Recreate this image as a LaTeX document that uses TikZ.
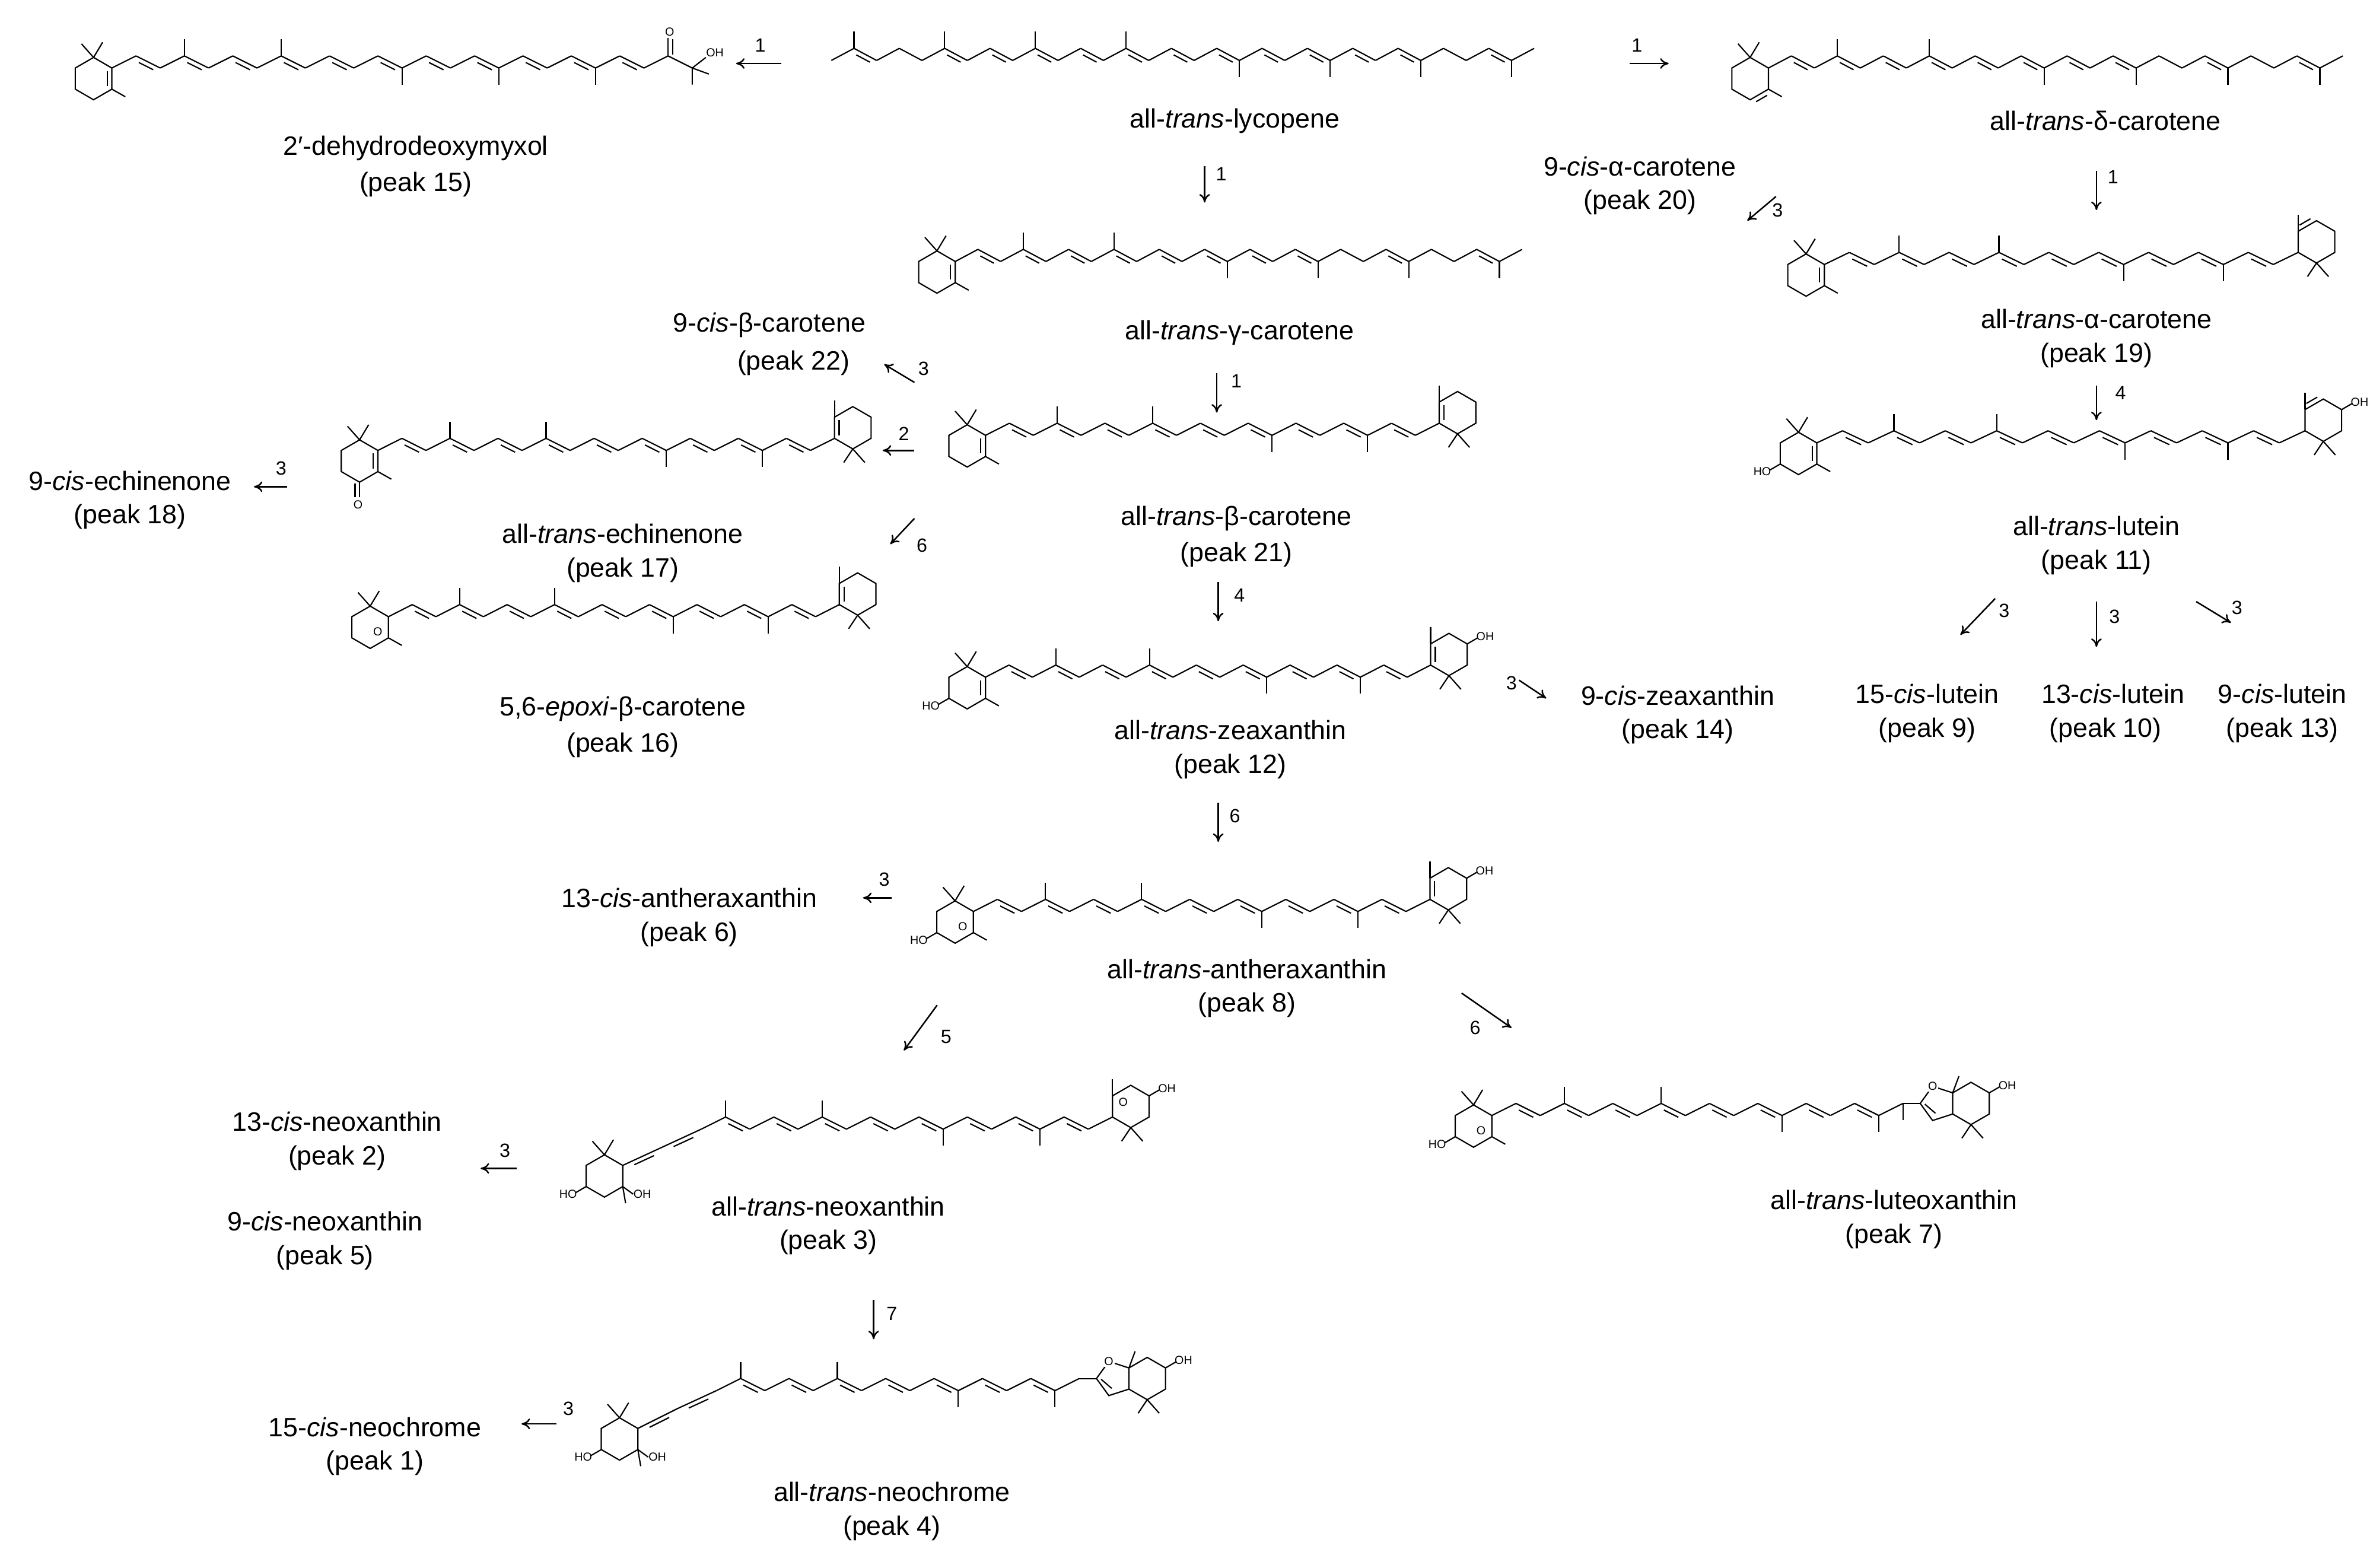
\documentclass[tikz,border=0pt]{standalone}
\usepackage{fontspec}
\setmainfont{Liberation Sans}
\usetikzlibrary{calc,arrows.meta}
\tikzset{
 lab/.style={font=\fontsize{12.5}{14}\selectfont,inner sep=0pt},
 num/.style={font=\fontsize{9}{10}\selectfont,inner sep=0pt},
 oh/.style={font=\fontsize{5.5}{6}\selectfont,inner sep=0pt},
 rxn/.style={-{To[length=4pt,width=5pt]},line width=0.7pt},
}
\newcommand\chain[6]{%
 \foreach \i in {0,...,#3}{\pgfmathsetmacro\yy{#2-8*mod(\i,2)}\coordinate (c\i) at ({#1+\i*#4},\yy);}
 \foreach \i in {1,...,#3}{\pgfmathtruncatemacro\j{\i-1}\draw (c\j)--(c\i);}
 \foreach \m in {#5}{\pgfmathtruncatemacro\hh{mod(\m,2)}\ifnum\hh=1 \draw (c\m)--++(0,-11);\else\draw (c\m)--++(0,11);\fi}
 \foreach \k in {#6}{\pgfmathtruncatemacro\j{\k-1}\draw ($(c\j)!.2!(c\k)!2.2pt!-90:(c\k)$)--($(c\k)!.2!(c\j)!2.2pt!90:(c\j)$);}
}
\def\hexpath{(0,-14)--(12.1,-7)--(12.1,7)--(0,14)--(-12.1,7)--(-12.1,-7)--cycle}
\newcommand\Lring[2]{\begin{scope}[shift={(#1)},shift={(-12.1,7)}]\draw \hexpath; #2\end{scope}}
\newcommand\Rring[2]{\begin{scope}[shift={(#1)},shift={(12.1,-7)}]\draw \hexpath; #2\end{scope}}
\newcommand\Lgem{\draw (0,-14)--(-8,-23) (0,-14)--(6,-24);}
\newcommand\Lme{\draw (12.1,7)--(21,12);}
\newcommand\Ldb{\draw (9,-5)--(9,5);}
\newcommand\Ledb{\draw ($(12.1,7)!.2!(0,14)!2.2pt!90:(0,14)$)--($(0,14)!.2!(12.1,7)!2.2pt!-90:(12.1,7)$);}
\newcommand\Lho{\draw (-12.1,7)--(-19,11); \node[oh] at (-24,12) {HO};}
\newcommand\Rgem{\draw (0,14)--(-6,23) (0,14)--(8,23);}
\newcommand\Rme{\draw (-12.1,-7)--(-12.1,-18);}
\newcommand\Rdb{\draw (-9,-5)--(-9,5);}
\newcommand\Redb{\draw ($(-12.1,-7)!.2!(0,-14)!2.2pt!90:(0,-14)$)--($(0,-14)!.2!(-12.1,-7)!2.2pt!-90:(-12.1,-7)$);}
\newcommand\Roh{\draw (12.1,-7)--(19,-11); \node[oh] at (24,-12) {OH};}
\newcommand\Lepo{\node[oh] at (5,3) {O};}
\newcommand\Repo{\node[oh] at (-5,-3) {O};}
\newcommand\rx[5]{\coordinate (#1s) at (#2); \coordinate (#1e) at (#3); \draw[rxn] (#1s)--(#1e); \node[num] (#1l) at (#5) {#4};}
\newcommand\Fur[1]{\begin{scope}[shift={(#1)}]\draw \hexpath;
 \draw (-12.1,-7)--(-25.4,-11.3)--(-33.6,0)--(-25.4,11.3)--(-12.1,7);
 \draw (-23.5,6.5)--(-30.5,0.5);
 \node[oh,fill=white,inner sep=0.5pt] at (-25.4,-11.3) {O};
 \draw (-12.1,-7)--(-8,-18); \draw (0,14)--(-6,23) (0,14)--(8,23);
 \draw (12.1,-7)--(19,-11); \node[oh] at (24,-12) {OH};\end{scope}}
\begin{document}
\begin{tikzpicture}[x=0.025cm,y=-0.025cm,line width=0.6pt]
\useasboundingbox (0,0) rectangle (1568,1037);
% M1 2'-dehydrodeoxymyxol
\chain{74}{45}{24}{16}{3,7,12,16,20}{2,4,6,8,10,12,14,16,18,20,22}
\Lring{c0}{\Lgem\Lme\Ldb}
\draw (c23)--++(0,-12); \draw ($(c23)+(3,-1)$)--++(0,-10); \node[oh] at ($(c23)+(1,-16)$) {O};
\draw (c24)--++(0,11) (c24)--++(11,4) (c24)--++(9,-7); \node[oh] at ($(c24)+(15,-10)$) {OH};
\node[lab] (t1) at (275,98) {2′-dehydrodeoxymyxol};
\node[lab] (t1b) at (275,122) {(peak 15)};
% M2 lycopene
\chain{550}{40}{31}{15}{1,5,9,13,18,22,26,30}{2,6,8,10,12,14,16,18,20,22,24,26,30}
\node[lab] (t2) at (817,80) {all-\textit{trans}-lycopene};
% M3 delta
\chain{1170}{45}{25}{15.2}{3,7,12,16,20,24}{2,4,6,8,10,12,14,16,20,24}
\Lring{c0}{\Lgem\Lme\Ledb}
\node[lab] (t3) at (1393,80) {all-\textit{trans}-δ-carotene};
% M4 gamma
\chain{632}{173}{25}{15}{3,7,12,16,20,24}{2,4,6,8,10,12,14,16,20,24}
\Lring{c0}{\Lgem\Lme\Ldb}
\node[lab] (t4) at (820,220) {all-\textit{trans}-γ-carotene};
% M5 alpha
\chain{1207}{175}{19}{16.5}{3,7,12,16}{2,4,6,8,10,12,14,16,18}
\Lring{c0}{\Lgem\Lme\Ldb}\Rring{c19}{\Rgem\Rme\Redb}
\node[lab] (t5) at (1387,211) {all-\textit{trans}-α-carotene};
\node[lab] (t5b) at (1387,235) {(peak 19)};
% M6 beta
\chain{652}{288}{19}{15.8}{3,7,12,16}{2,4,6,8,10,12,14,16,18}
\Lring{c0}{\Lgem\Lme\Ldb}\Rring{c19}{\Rgem\Rme\Rdb}
\node[lab] (t6) at (818,343) {all-\textit{trans}-β-carotene};
\node[lab] (t6b) at (818,367) {(peak 21)};
% M7 echinenone
\chain{250}{298}{19}{15.9}{3,7,12,16}{2,4,6,8,10,12,14,16,18}
\Lring{c0}{\Lgem\Lme\Ldb\draw (0,14)--(0,24) (-3,15)--(-3,24); \node[oh] at (-1,29) {O};}
\Rring{c19}{\Rgem\Rme\Rdb}
\node[lab] (t7) at (412,353) {all-\textit{trans}-echinenone};
\node[lab] (t7b) at (412,377) {(peak 17)};
% M8 epoxi
\chain{257}{408}{19}{15.7}{3,7,12,16}{2,4,6,8,10,12,14,16,18}
\Lring{c0}{\Lgem\Lme\Lepo}\Rring{c19}{\Rgem\Rme\Rdb}
\node[lab] (t8) at (412,469) {5,6-\textit{epoxi}-β-carotene};
\node[lab] (t8b) at (412,493) {(peak 16)};
% M9 lutein
\chain{1202}{293}{19}{17}{3,7,12,16}{2,4,6,8,10,12,14,16,18}
\Lring{c0}{\Lgem\Lme\Ldb\Lho}\Rring{c19}{\Rgem\Rme\Redb\Roh}
\node[lab] (t9) at (1387,348) {all-\textit{trans}-lutein};
\node[lab] (t9b) at (1387,372) {(peak 11)};
% M10 zeaxanthin
\chain{652}{448}{19}{15.5}{3,7,12,16}{2,4,6,8,10,12,14,16,18}
\Lring{c0}{\Lgem\Lme\Ldb\Lho}\Rring{c19}{\Rgem\Rme\Rdb\Roh}
\node[lab] (t10) at (814,483) {all-\textit{trans}-zeaxanthin};
\node[lab] (t10b) at (814,507) {(peak 12)};
% M11 antheraxanthin
\chain{644}{603}{19}{15.9}{3,7,12,16}{2,4,6,8,10,12,14,16,18}
\Lring{c0}{\Lgem\Lme\Lepo\Lho}\Rring{c19}{\Rgem\Rme\Rdb\Roh}
\node[lab] (t11) at (825,641) {all-\textit{trans}-antheraxanthin};
\node[lab] (t11b) at (825,665) {(peak 8)};
% M12 neoxanthin
\coordinate (n0) at (412,771); \coordinate (n1) at (438,759);
\chain{464}{747}{17}{16}{1,5,10,14}{2,4,6,8,10,12,14,16}
\draw (n0)--(n1)--(c0);
\draw ($(n0)!.25!(n1)!2pt!-90:(n1)$)--($(n1)!.25!(n0)!2pt!90:(n0)$);
\draw ($(n1)!.25!(c0)!2pt!-90:(c0)$)--($(c0)!.25!(n1)!2pt!90:(n1)$);
\Lring{n0}{\Lgem\Lho\draw (12.1,7)--(19,12); \node[oh] at (25,12) {OH}; \draw (12.1,7)--(14,18);}
\Rring{c17}{\Rgem\Rme\Repo\Roh}
\node[lab] (t12) at (548,798) {all-\textit{trans}-neoxanthin};
\node[lab] (t12b) at (548,822) {(peak 3)};
% M13 luteoxanthin
\chain{987}{738}{17}{16}{3,7,12,16}{2,4,6,8,10,12,14,16}
\Lring{c0}{\Lgem\Lme\Lepo\Lho}
\draw (c17)--++(0,11);
\coordinate (f1) at ($(c17)+(11.4,0)$);
\draw (c17)--(f1);
\Fur{$(c17)+(45,0)$}
\node[lab] (t13) at (1253,794) {all-\textit{trans}-luteoxanthin};
\node[lab] (t13b) at (1253,818) {(peak 7)};
% M14 neochrome
\coordinate (m0) at (422,945); \coordinate (m1) at (448,932);
\chain{474}{920}{15}{16}{1,5,10,14}{2,4,6,8,10,12,14}
\draw (m0)--(m1)--(c0);
\draw ($(m0)!.25!(m1)!2pt!-90:(m1)$)--($(m1)!.25!(m0)!2pt!90:(m0)$);
\draw ($(m1)!.25!(c0)!2pt!-90:(c0)$)--($(c0)!.25!(m1)!2pt!90:(m1)$);
\Lring{m0}{\Lgem\Lho\draw (12.1,7)--(19,12); \node[oh] at (25,12) {OH}; \draw (12.1,7)--(14,18);}
\coordinate (f2) at ($(c15)+(11.4,0)$);
\draw (c15)--(f2);
\Fur{$(c15)+(45,0)$}
\node[lab] (t14) at (590,987) {all-\textit{trans}-neochrome};
\node[lab] (t14b) at (590,1011) {(peak 4)};
% text-only labels
\node[lab] (u1) at (1085,110) {9-\textit{cis}-α-carotene};
\node[lab] (u1b) at (1085,134) {(peak 20)};
\node[lab] (u2) at (509,215) {9-\textit{cis}-β-carotene};
\node[lab] (u2b) at (525,240) {(peak 22)};
\node[lab] (u3) at (86,318) {9-\textit{cis}-echinenone};
\node[lab] (u3b) at (86,342) {(peak 18)};
\node[lab] (u4) at (1110,460) {9-\textit{cis}-zeaxanthin};
\node[lab] (u4b) at (1110,484) {(peak 14)};
\node[lab] (u5) at (1275,459) {15-\textit{cis}-lutein};
\node[lab] (u5b) at (1275,483) {(peak 9)};
\node[lab] (u6) at (1398,459) {13-\textit{cis}-lutein};
\node[lab] (u6b) at (1393,483) {(peak 10)};
\node[lab] (u7) at (1510,459) {9-\textit{cis}-lutein};
\node[lab] (u7b) at (1510,483) {(peak 13)};
\node[lab] (u8) at (456,594) {13-\textit{cis}-antheraxanthin};
\node[lab] (u8b) at (456,618) {(peak 6)};
\node[lab] (u9) at (223,742) {13-\textit{cis}-neoxanthin};
\node[lab] (u9b) at (223,766) {(peak 2)};
\node[lab] (u10) at (215,808) {9-\textit{cis}-neoxanthin};
\node[lab] (u10b) at (215,832) {(peak 5)};
\node[lab] (u11) at (248,944) {15-\textit{cis}-neochrome};
\node[lab] (u11b) at (248,968) {(peak 1)};
% reaction arrows
\rx{r1}{517,42}{487,42}{1}{503,30}
\rx{r2}{1078,42}{1104,42}{1}{1083,30}
\rx{r3}{797,110}{797,134}{1}{808,115}
\rx{r4}{1175,130}{1156,146}{3}{1176,139}
\rx{r5}{1387,113}{1387,139}{1}{1398,117}
\rx{r6}{605,253}{585,241}{3}{611,244}
\rx{r7}{805,247}{805,273}{1}{818,252}
\rx{r8}{605,298}{584,298}{2}{598,287}
\rx{r9}{190,322}{168,322}{3}{186,310}
\rx{r10}{605,343}{589,360}{6}{610,361}
\rx{r11}{806,385}{806,411}{4}{820,394}
\rx{r12}{1387,255}{1387,278}{4}{1403,260}
\rx{r13}{1320,396}{1297,420}{3}{1326,404}
\rx{r14}{1387,398}{1387,428}{3}{1399,408}
\rx{r15}{1453,398}{1476,412}{3}{1480,402}
\rx{r16}{1005,450}{1023,462}{3}{1000,452}
\rx{r17}{806,531}{806,557}{6}{817,540}
\rx{r18}{590,594}{571,594}{3}{585,582}
\rx{r19}{620,665}{598,695}{5}{626,686}
\rx{r20}{967,657}{1000,680}{6}{976,680}
\rx{r21}{342,773}{318,773}{3}{334,761}
\rx{r22}{578,860}{578,886}{7}{590,869}
\rx{r23}{368,942}{345,942}{3}{376,932}
\end{tikzpicture}
\end{document}
